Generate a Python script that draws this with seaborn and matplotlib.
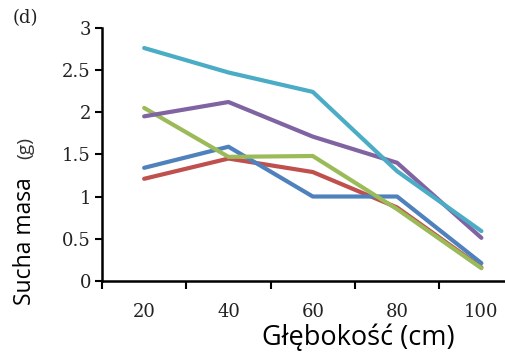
import pandas as pd
import matplotlib
matplotlib.use("Agg")
import matplotlib.pyplot as plt
import seaborn as sns
from matplotlib.ticker import FixedLocator, NullFormatter

# Data
depths = ["20", "40", "60", "80", "100"]
cyan = [2.76, 2.47, 2.24, 1.30, 0.59]
purple = [1.95, 2.12, 1.71, 1.40, 0.51]
green = [2.05, 1.47, 1.48, 0.85, 0.15]
blue = [1.34, 1.59, 1.00, 1.00, 0.21]
red = [1.21, 1.45, 1.29, 0.87, 0.16]
yticks = [0, 0.5, 1, 1.5, 2, 2.5, 3]
ytick_labels = ["0", "0.5", "1", "1.5", "2", "2.5", "3"]

series = {"cyan": cyan, "purple": purple, "green": green, "blue": blue, "red": red}
colors = {"cyan": "#4BACC6", "purple": "#8064A2", "green": "#9BBB59",
          "blue": "#4F81BD", "red": "#C0504D"}

rows = []
for name, vals in series.items():
    for i, v in enumerate(vals):
        rows.append({"pos": i, "value": v, "series": name})
df = pd.DataFrame(rows)

sns.set_style("white")
fig = plt.figure(figsize=(5.05, 3.56), dpi=100)
ax = fig.add_axes([0.202, 0.211, 0.798, 0.711])

# draw in this order so cyan/purple sit on top like the original
order = ["red", "blue", "green", "purple", "cyan"]
sns.lineplot(data=df, x="pos", y="value", hue="series", hue_order=order,
             palette=colors, linewidth=3, legend=False, ax=ax)

ax.set_xlim(-0.5, 4.28)
ax.set_ylim(0, 3)

ax.spines["top"].set_visible(False)
ax.spines["right"].set_visible(False)
for s in ["left", "bottom"]:
    ax.spines[s].set_color("black")
    ax.spines[s].set_linewidth(1.8)

serif = "DejaVu Serif"
tick_col = "#222222"

# y ticks
ax.set_yticks(yticks)
ax.set_yticklabels(ytick_labels)
ax.tick_params(axis="y", which="major", direction="out", length=5, width=1.5,
               color="black", pad=3, left=True)

# x ticks: marks between categories, labels at centres
ax.xaxis.set_major_locator(FixedLocator([-0.5, 0.5, 1.5, 2.5, 3.5]))
ax.xaxis.set_major_formatter(NullFormatter())
ax.xaxis.set_minor_locator(FixedLocator(range(len(depths))))
ax.set_xticklabels(depths, minor=True)
ax.tick_params(axis="x", which="major", direction="out", length=6, width=1.5,
               color="black", bottom=True)
ax.tick_params(axis="x", which="minor", length=0, pad=16, bottom=True)

for lab in ax.get_yticklabels() + ax.get_xticklabels(minor=True):
    lab.set_fontfamily(serif)
    lab.set_fontsize(13)
    lab.set_color(tick_col)

ax.set_xlabel("")
ax.set_ylabel("")
fig.text(358 / 505, 1 - 338 / 356, "Głębokość (cm)", fontfamily="Open Sans",
         fontsize=19.5, ha="center", va="center", color="black")
fig.text(25 / 505, 1 - 305 / 356, "Sucha masa", fontfamily="Open Sans",
         fontsize=16.5, rotation=90, ha="center", va="bottom", color="black")
fig.text(25 / 505, 1 - 148 / 356, "(g)", fontfamily="Open Sans",
         fontsize=14, rotation=90, ha="center", va="center", color="#333333")

fig.text(25 / 505, 1 - 18 / 356, "(d)", fontfamily=serif, fontsize=13,
         color="#222222", ha="center", va="center")

fig.savefig("out.png", dpi=100)
